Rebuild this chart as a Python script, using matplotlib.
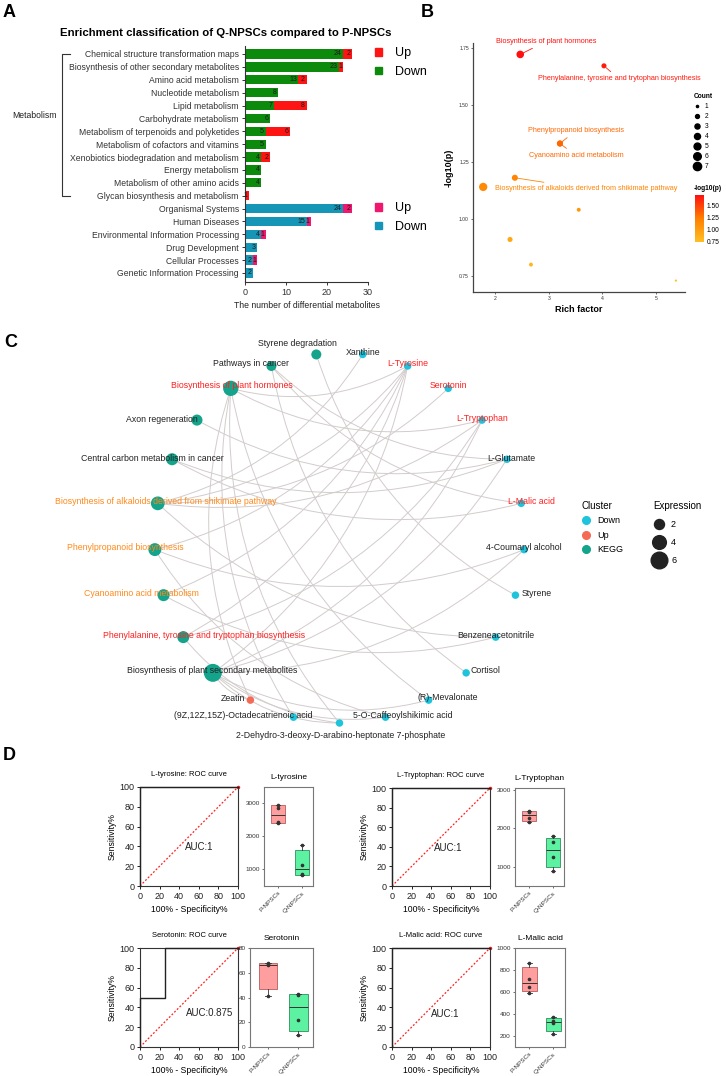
import numpy as np
import matplotlib
matplotlib.use("Agg")
import matplotlib.pyplot as plt
import matplotlib.transforms as mtrans
from matplotlib.patches import Patch, FancyArrowPatch
from matplotlib.lines import Line2D
from matplotlib.colors import LinearSegmentedColormap, Normalize
from matplotlib.cm import ScalarMappable

plt.rcParams['font.family'] = ['Liberation Sans', 'DejaVu Sans']

# ---------------- data: panel A ----------------
met_cats = ["Chemical structure transformation maps",
            "Biosynthesis of other secondary metabolites",
            "Amino acid metabolism", "Nucleotide metabolism", "Lipid metabolism",
            "Carbohydrate metabolism", "Metabolism of terpenoids and polyketides",
            "Metabolism of cofactors and vitamins",
            "Xenobiotics biodegradation and metabolism", "Energy metabolism",
            "Metabolism of other amino acids", "Glycan biosynthesis and metabolism"]
met_down = [24, 23, 13, 8, 7, 6, 5, 5, 4, 4, 4, 0]
met_up = [2, 1, 2, 0, 8, 0, 6, 0, 2, 0, 0, 1]
oth_cats = ["Organismal Systems", "Human Diseases",
            "Environmental Information Processing", "Drug Development",
            "Cellular Processes", "Genetic Information Processing"]
oth_down = [24, 15, 4, 3, 2, 2]
oth_up = [2, 1, 1, 0, 1, 0]

# ---------------- data: panel B ----------------
b_rich = [2.47, 4.03, 3.21, 3.21, 2.37, 1.78, 3.56, 2.28, 2.67, 5.37]
b_logp = [1.72, 1.67, 1.33, 1.33, 1.18, 1.14, 1.04, 0.91, 0.80, 0.73]
b_count = [6, 3, 4, 4, 4, 7, 2, 3, 2, 1]
b_names = ["Biosynthesis of plant hormones",
           "Phenylalanine, tyrosine and trytophan biosynthesis",
           "Phenylpropanoid biosynthesis", "Cyanoamino acid metabolism",
           "Biosynthesis of alkaloids derived from shikimate pathway",
           "", "", "", "", ""]

# ---------------- data: panel C ----------------
PS = "Biosynthesis of plant secondary metabolites"
PH = "Biosynthesis of plant hormones"
PTT = "Phenylalanine, tyrosine and tryptophan biosynthesis"
CY = "Cyanoamino acid metabolism"
PP = "Phenylpropanoid biosynthesis"
AK = "Biosynthesis of alkaloids derived from shikimate pathway"
CC = "Central carbon metabolism in cancer"
AX = "Axon regeneration"
PC = "Pathways in cancer"
SD = "Styrene degradation"
DH = "2-Dehydro-3-deoxy-D-arabino-heptonate 7-phosphate"
OD = "(9Z,12Z,15Z)-Octadecatrienoic acid"

c_nodes = [DH, OD, "Zeatin", PS, PTT, CY, PP, AK, CC, AX, PH, PC, SD,
           "Xanthine", "L-Tyrosine", "Serotonin", "L-Tryptophan", "L-Glutamate",
           "L-Malic acid", "4-Coumaryl alcohol", "Styrene", "Benzeneacetonitrile",
           "Cortisol", "(R)-Mevalonate", "5-O-Caffeoylshikimic acid"]
c_types = ["Down", "Down", "Up", "KEGG", "KEGG", "KEGG", "KEGG", "KEGG", "KEGG",
           "KEGG", "KEGG", "KEGG", "KEGG", "Down", "Down", "Down", "Down", "Down",
           "Down", "Down", "Down", "Down", "Down", "Down", "Down"]
c_expr = [1, 1, 1, 7, 3, 3, 3.5, 4, 3, 2.5, 5, 2, 2,
          1, 1, 1, 1, 1, 1, 1, 1, 1, 1, 1, 1]
c_edges = [(PS, "L-Tyrosine"), (PS, "L-Tryptophan"), (PS, "Zeatin"),
           (PS, "(R)-Mevalonate"), (PS, "4-Coumaryl alcohol"),
           (PS, "5-O-Caffeoylshikimic acid"), (PS, DH), (PS, "L-Glutamate"),
           (PH, "L-Tyrosine"), (PH, "L-Tryptophan"), (PH, "Zeatin"),
           (PH, "(R)-Mevalonate"), (PH, OD), (PH, DH),
           (PTT, "L-Tyrosine"), (PTT, "L-Tryptophan"), (PTT, DH),
           (CY, "Benzeneacetonitrile"), (CY, "L-Tyrosine"),
           (PP, "4-Coumaryl alcohol"), (PP, "5-O-Caffeoylshikimic acid"),
           (PP, "L-Tyrosine"),
           (AK, "L-Tyrosine"), (AK, "L-Tryptophan"), (AK, "Serotonin"),
           (AK, "Xanthine"), (AK, "Benzeneacetonitrile"),
           (CC, "L-Glutamate"), (CC, "L-Malic acid"),
           (AX, "L-Glutamate"),
           (PC, "L-Glutamate"), (PC, "L-Malic acid"), (PC, "Cortisol"),
           (SD, "Styrene")]

# ---------------- data: panel D ----------------
d_names = ["L-tyrosine", "L-Tryptophan", "Serotonin", "L-Malic acid"]
d_fpr = [[0, 0, 100], [0, 0, 100], [0, 0, 25, 25, 100], [0, 0, 100]]
d_tpr = [[0, 100, 100], [0, 100, 100], [0, 50, 50, 100, 100], [0, 100, 100]]
d_auc = ["AUC:1", "AUC:1", "AUC:0.875", "AUC:1"]
d_p = [[2400, 2420, 2850, 2950], [2170, 2270, 2420, 2450],
       [41, 66, 67, 68], [590, 650, 720, 860]]
d_q = [[820, 850, 1130, 1730], [900, 1250, 1640, 1790],
       [10, 22, 42, 43], [220, 320, 340, 370]]
d_groups = ["P-NPSCs", "Q-NPSCs"]

# ---------------- figure ----------------
W, H = 726, 1076
fig = plt.figure(figsize=(W / 100, H / 100), dpi=100)


def fx(px):
    return px / W


def fy(py):
    return 1 - py / H


def add_ax(x0, y0, x1, y1):
    return fig.add_axes([x0 / W, 1 - y1 / H, (x1 - x0) / W, (y1 - y0) / H])


for lab, x, y in [("A", 3, 4), ("B", 421, 4), ("C", 4, 334), ("D", 3, 747)]:
    fig.text(fx(x), fy(y), lab, fontsize=13, fontweight='bold', ha='left', va='top')

# ---------------- panel A ----------------
GREEN, RED, TEAL, PINK = '#0b8a0b', '#ff1414', '#1596b6', '#f0186e'
axA = add_ax(245, 46, 368, 282)
cats = met_cats + oth_cats
nm = len(met_cats)
rows = np.arange(len(cats))
axA.barh(rows[:nm], met_down, height=0.72, color=GREEN)
axA.barh(rows[:nm], met_up, left=met_down, height=0.72, color=RED)
axA.barh(rows[nm:], oth_down, height=0.72, color=TEAL)
axA.barh(rows[nm:], oth_up, left=oth_down, height=0.72, color=PINK)
for r, d, u in zip(rows, met_down + oth_down, met_up + oth_up):
    if d:
        axA.text(d - 0.35, r, str(d), ha='right', va='center', fontsize=5, color='#1a1a1a')
    if u:
        axA.text(d + u - 0.35, r, str(u), ha='right', va='center', fontsize=5, color='#1a1a1a')
axA.set_yticks(rows)
axA.set_yticklabels(cats, fontsize=6.2, color='#333333')
axA.set_ylim(17.7, -0.62)
axA.set_xlim(0, 30)
axA.set_xticks([0, 10, 20, 30])
axA.tick_params(axis='x', labelsize=6.5, length=2.5, width=0.7, pad=2, colors='#333333')
axA.tick_params(axis='y', length=2.5, width=0.7, pad=2, colors='#333333')
for s in ['top', 'right']:
    axA.spines[s].set_visible(False)
for s in ['left', 'bottom']:
    axA.spines[s].set_color('#333333')
    axA.spines[s].set_linewidth(0.8)
axA.set_xlabel("The number of differential metabolites", fontsize=6.2, labelpad=3, color='#222222')
fig.text(fx(226), fy(33), "Enrichment classification of Q-NPSCs compared to P-NPSCs",
         fontsize=8.2, fontweight='bold', ha='center', va='center')
fig.text(fx(57), fy(116), "Metabolism", fontsize=6.2, ha='right', va='center', color='#222222')
trA = mtrans.blended_transform_factory(fig.transFigure, axA.transData)
axA.plot([fx(70), fx(62), fx(62), fx(70)], [0, 0, nm - 1, nm - 1], transform=trA,
         color='#333333', lw=0.8, clip_on=False)
leg_kw = dict(loc='upper left', bbox_transform=fig.transFigure, frameon=False, fontsize=9,
              handlelength=0.6, handleheight=0.6, handletextpad=1.0, labelspacing=0.55,
              borderpad=0, borderaxespad=0)
legA1 = axA.legend(handles=[Patch(color=RED, label='Up'), Patch(color=GREEN, label='Down')],
                   bbox_to_anchor=(fx(375), fy(47)), **leg_kw)
axA.add_artist(legA1)
axA.legend(handles=[Patch(color=PINK, label='Up'), Patch(color=TEAL, label='Down')],
           bbox_to_anchor=(fx(375), fy(202)), **leg_kw)

# ---------------- panel B ----------------
cmapB = LinearSegmentedColormap.from_list('bcm', ['#ffbf24', '#ff7f00', '#ff1010'])
normB = Normalize(0.73, 1.72)
axB = add_ax(473, 43, 685, 292)


def bsize(c):
    return 5.5 * np.asarray(c, dtype=float) - 3


axB.scatter(b_rich, b_logp, s=bsize(b_count), c=b_logp, cmap=cmapB, norm=normB,
            linewidths=0, zorder=3)
b_off = [(26, -13), (15, 13), (16, -13), (16, 12), (71, 11)]
for x, y, name, off in zip(b_rich, b_logp, b_names, b_off + [None] * 5):
    if not name:
        continue
    col = cmapB(normB(y))
    axB.annotate(name, (x, y), xytext=(off[0] * 0.72, -off[1] * 0.72),
                 textcoords='offset points', ha='center', va='center', fontsize=5.2,
                 color=col, arrowprops=dict(arrowstyle='-', color=col, lw=0.6,
                                            shrinkA=1, shrinkB=2))
axB.set_xlim(1.59, 5.54)
axB.set_ylim(0.68, 1.77)
axB.set_xticks([2, 3, 4, 5])
axB.set_yticks([0.75, 1.0, 1.25, 1.5, 1.75])
axB.set_yticklabels(["0.75", "1.00", "1.25", "1.50", "1.75"])
axB.tick_params(labelsize=3.6, length=1.5, width=0.5, pad=1.5, colors='#333333')
for s in ['top', 'right']:
    axB.spines[s].set_visible(False)
for s in ['left', 'bottom']:
    axB.spines[s].set_color('#444444')
    axB.spines[s].set_linewidth(0.9)
axB.set_xlabel("Rich factor", fontsize=6.5, fontweight='bold', labelpad=3)
axB.set_ylabel("-log10(p)", fontsize=6.5, fontweight='bold', labelpad=4)
count_handles = [Line2D([], [], marker='o', ls='', color='black',
                        markersize=np.sqrt(bsize(c)), label=str(c)) for c in range(1, 8)]
axB.legend(handles=count_handles, title="Count", loc='upper left',
           bbox_to_anchor=(fx(694), fy(93)), bbox_transform=fig.transFigure,
           frameon=False, fontsize=4.8, title_fontproperties={'weight': 'bold', 'size': 4.8},
           alignment='left', handlelength=1.0, handletextpad=0.6, labelspacing=0.45,
           borderpad=0, borderaxespad=0)
caxB = add_ax(695, 195, 704, 242)
cb = fig.colorbar(ScalarMappable(norm=normB, cmap=cmapB), cax=caxB)
cb.set_ticks([0.75, 1.0, 1.25, 1.5])
cb.set_ticklabels(["0.75", "1.00", "1.25", "1.50"])
cb.ax.tick_params(labelsize=4.8, length=0, pad=2)
cb.outline.set_visible(False)
fig.text(fx(694), fy(188), "-log10(p)", fontsize=4.8, fontweight='bold', ha='left', va='center')

# ---------------- panel C ----------------
C_COL = {'Down': '#1ec3dc', 'Up': '#f46a55', 'KEGG': '#14a38b'}
red_lab = {PH, PTT, "L-Tyrosine", "Serotonin", "L-Tryptophan", "L-Malic acid"}
org_lab = {AK, PP, CY}
lab_off = {DH: (1, 12, 'center'), OD: (-50, -2, 'center'), "Zeatin": (-5, -2, 'right'),
           PS: (-1, -2, 'center'), PTT: (21, -2, 'center'), CY: (-22, -2, 'center'),
           PP: (-30, -2, 'center'), AK: (8, -2, 'center'), CC: (-20, -1, 'center'),
           AX: (1, -1, 'right'), PH: (1, -3, 'center'), PC: (-20, -2, 'center'),
           SD: (-19, -11, 'center'), "Xanthine": (0, -2, 'center'),
           "L-Tyrosine": (0, -2, 'center'), "Serotonin": (0, -3, 'center'),
           "L-Tryptophan": (0, -2, 'center'), "L-Glutamate": (4, -1, 'center'),
           "L-Malic acid": (10, -2, 'center'), "4-Coumaryl alcohol": (0, -2, 'center'),
           "Styrene": (6, -2, 'left'), "Benzeneacetonitrile": (0, -2, 'center'),
           "Cortisol": (4, -2, 'left'), "(R)-Mevalonate": (19, -3, 'center'),
           "5-O-Caffeoylshikimic acid": (17, -2, 'center')}

axC = add_ax(0, 330, 726, 760)
axC.axis('off')
ccx, ccy, cR = 339.5, 538, 185
axC.set_xlim(-ccx / cR, (W - ccx) / cR)
axC.set_ylim((ccy - 760) / cR, (ccy - 330) / cR)
theta = np.deg2rad(-90 - np.arange(len(c_nodes)) * 360 / len(c_nodes))
pos = {n: (np.cos(t), np.sin(t)) for n, t in zip(c_nodes, theta)}
for a, b in c_edges:
    axC.add_patch(FancyArrowPatch(pos[a], pos[b], arrowstyle='-',
                                  connectionstyle='arc3,rad=0.2', color='#d3cccc',
                                  lw=0.7, shrinkA=0, shrinkB=0, zorder=1))
axC.scatter([pos[n][0] for n in c_nodes], [pos[n][1] for n in c_nodes],
            s=[23 * e + 6 for e in c_expr], c=[C_COL[t] for t in c_types],
            linewidths=0, zorder=2)
for n in c_nodes:
    dx, dy, ha = lab_off[n]
    col = '#ff2020' if n in red_lab else ('#ff8a1c' if n in org_lab else '#222222')
    axC.annotate(n, pos[n], xytext=(dx * 0.72, -dy * 0.72), textcoords='offset points',
                 ha=ha, va='center', fontsize=6.3, color=col, zorder=3)
axC.legend(handles=[Line2D([], [], marker='o', ls='', color=C_COL[k], markersize=5.5, label=k)
                    for k in ['Down', 'Up', 'KEGG']],
           title="Cluster", loc='upper left', bbox_to_anchor=(fx(581), fy(501)),
           bbox_transform=fig.transFigure, frameon=False, fontsize=6.5, title_fontsize=7,
           alignment='left', handlelength=1.0, handletextpad=0.8, labelspacing=0.6,
           borderpad=0, borderaxespad=0)
expr_handles = [Line2D([], [], marker='o', ls='', color='#222222',
                       markersize=np.sqrt(23 * v + 6), label=str(v)) for v in [2, 4, 6]]
fig.legend(handles=expr_handles, title="Expression", loc='upper left',
           bbox_to_anchor=(fx(653), fy(501)), frameon=False, fontsize=6.5,
           title_fontsize=7, alignment='left', handlelength=1.4, handletextpad=0.6,
           labelspacing=1.0, borderpad=0, borderaxespad=0)

# ---------------- panel D ----------------
roc_box = [(140, 787, 238, 886), (392, 788, 490, 886), (140, 948, 238, 1047), (392, 948, 490, 1047)]
box_box = [(264, 787, 313, 886), (515, 788, 564, 886), (250, 948, 313, 1047), (515, 948, 565, 1047)]
box_ylim = [(485, 3485), (500, 3040), (0, 80), (100, 1000)]
box_ticks = [[1000, 2000, 3000], [1000, 2000, 3000], [0, 20, 40, 60, 80],
             [200, 400, 600, 800, 1000]]
auc_xy = [(60, 39), (57, 39), (71, 34), (54, 33)]
box_fc = ['#ff9e9e', '#5cf2a2']
box_ec = ['#b85c5c', '#2f8f5c']

for i, name in enumerate(d_names):
    ax = add_ax(*roc_box[i])
    ax.plot(d_fpr[i], d_tpr[i], color='#222222', lw=1.0, clip_on=False, zorder=3)
    ax.plot([0, 100], [0, 100], color='#ff2020', ls=(0, (1.5, 1.5)), lw=0.9)
    ax.plot([100], [100], 'o', color='#ff2020', ms=1.5, clip_on=False)
    ax.text(*auc_xy[i], d_auc[i], fontsize=7, ha='center', va='center', color='#222222')
    ax.set_xlim(0, 100)
    ax.set_ylim(0, 100)
    ax.set_xticks(range(0, 101, 20))
    ax.set_yticks(range(0, 101, 20))
    ax.tick_params(labelsize=6.5, length=2.5, width=0.7, pad=1.5, colors='#222222')
    for s in ax.spines.values():
        s.set_linewidth(0.8)
        s.set_color('#333333')
    ax.set_xlabel("100% - Specificity%", fontsize=6.2, labelpad=3)
    ax.set_ylabel("Sensitivity%", fontsize=6.2, labelpad=2)
    ax.set_title(f"{name}: ROC curve", fontsize=5.5, pad=8)

    bx = add_ax(*box_box[i])
    stats = []
    for vals in (d_p[i], d_q[i]):
        q1, med, q3 = np.percentile(vals, [25, 50, 75], method='weibull')
        stats.append(dict(med=med, q1=q1, q3=q3, whislo=min(vals), whishi=max(vals), fliers=[]))
    bp = bx.bxp(stats, positions=[0, 1], widths=0.6, patch_artist=True, showfliers=False,
                medianprops=dict(color='#333333', lw=0.7),
                whiskerprops=dict(color='#333333', lw=0.6),
                capprops=dict(color='#333333', lw=0.6), capwidths=0.18)
    for patch, fc, ec in zip(bp['boxes'], box_fc, box_ec):
        patch.set_facecolor(fc)
        patch.set_edgecolor(ec)
        patch.set_linewidth(0.6)
    for k, vals in enumerate((d_p[i], d_q[i])):
        bx.plot([k] * len(vals), vals, 'o', color='#333333', ms=1.6, zorder=4)
    bx.set_xlim(-0.6, 1.48)
    bx.set_ylim(*box_ylim[i])
    bx.set_yticks(box_ticks[i])
    bx.set_xticks([0, 1])
    bx.set_xticklabels(d_groups, rotation=45, ha='right', rotation_mode='anchor')
    bx.tick_params(labelsize=4.6, length=1.5, width=0.5, pad=1.5, colors='#333333')
    for s in bx.spines.values():
        s.set_linewidth(0.8)
        s.set_color('#777777')
    bx.set_title(name, fontsize=6, pad=6)

fig.savefig("out.png", dpi=100)
